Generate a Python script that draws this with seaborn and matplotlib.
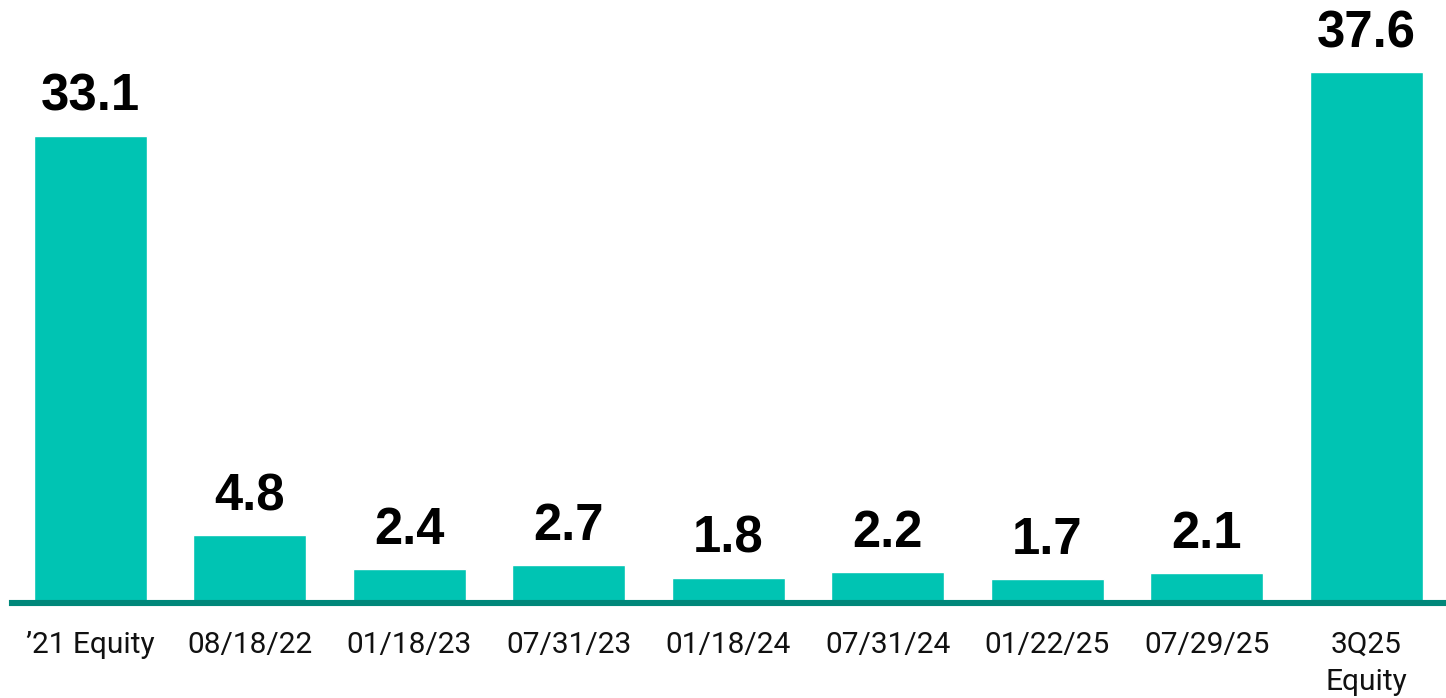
import matplotlib
matplotlib.use("Agg")
import matplotlib.pyplot as plt
import seaborn as sns
import pandas as pd

categories = ["\u201921 Equity", "08/18/22", "01/18/23", "07/31/23", "01/18/24",
              "07/31/24", "01/22/25", "07/29/25", "3Q25\nEquity"]
values = [33.1, 4.8, 2.4, 2.7, 1.8, 2.2, 1.7, 2.1, 37.6]

BAR = "#00C4B3"
LINE = "#00877A"

sns.set_theme(style="white")
plt.rcParams["font.family"] = ["Roboto", "DejaVu Sans"]

df = pd.DataFrame({"cat": categories, "val": values})

W, H = 1446, 698
fig = plt.figure(figsize=(W / 100, H / 100), dpi=100)
ax = fig.add_axes([12 / W, (H - 603) / H, 1 - 12 / W, 603 / H])

sns.barplot(data=df, x="cat", y="val", color=BAR, saturation=1, width=0.71, ax=ax)

ax.set_xlim(-0.49, 8.5)
ax.set_ylim(0, 603 / 14.11)

for s in ["top", "right", "left"]:
    ax.spines[s].set_visible(False)
ax.spines["bottom"].set_color(LINE)
ax.spines["bottom"].set_linewidth(4.4)
ax.spines["bottom"].set_zorder(5)

ax.set_xlabel("")
ax.set_ylabel("")
ax.set_yticks([])
ax.tick_params(axis="x", length=0, pad=20, labelsize=21.5, labelcolor="#111111")
for lab in ax.get_xticklabels():
    lab.set_linespacing(1.42)

for i, v in enumerate(values):
    ax.annotate(f"{v:.1f}", xy=(i, v), xytext=(0, 18), textcoords="offset points",
                ha="center", va="baseline", fontsize=36.5, fontweight="bold",
                family=["Liberation Sans", "DejaVu Sans"], color="#000000",
                annotation_clip=False)

fig.savefig("out.png", dpi=100)
